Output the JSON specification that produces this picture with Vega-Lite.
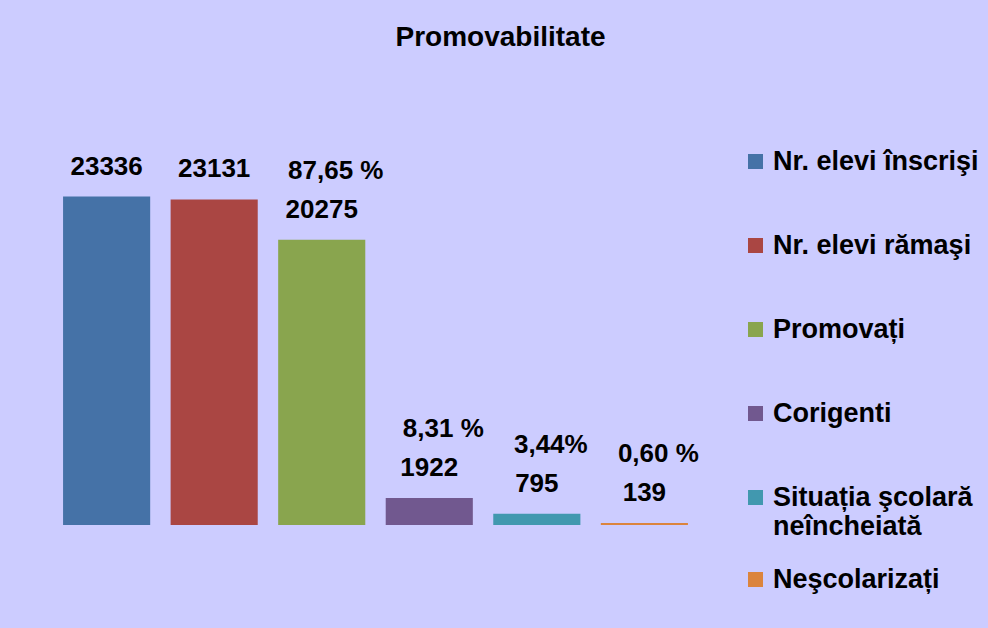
{
  "$schema": "https://vega.github.io/schema/vega-lite/v6.json",
  "width": 641,
  "height": 380,
  "autosize": {"type": "none"},
  "padding": {"left": 55, "top": 145, "right": 292, "bottom": 103},
  "background": "#CCCCFF",
  "view": {"stroke": null},
  "title": {
    "text": "Promovabilitate",
    "font": "Liberation Sans",
    "fontSize": 28,
    "fontWeight": "bold",
    "color": "black",
    "anchor": "middle",
    "frame": "group",
    "dx": 125,
    "offset": 41,
    "baseline": "alphabetic"
  },
  "data": {
    "values": [
      {"categorie": "Nr. elevi înscrişi", "valoare": 23336, "procent": ""},
      {"categorie": "Nr. elevi rămaşi", "valoare": 23131, "procent": ""},
      {"categorie": "Promovați", "valoare": 20275, "procent": "87,65 %"},
      {"categorie": "Corigenti", "valoare": 1922, "procent": "8,31 %"},
      {"categorie": "Situația şcolară neîncheiată", "valoare": 795, "procent": "3,44%"},
      {"categorie": "Neşcolarizați", "valoare": 139, "procent": "0,60 %"}
    ]
  },
  "encoding": {
    "x": {
      "field": "categorie",
      "type": "nominal",
      "sort": null,
      "axis": null,
      "scale": {"paddingInner": 0.19, "paddingOuter": 0.075}
    },
    "y": {
      "field": "valoare",
      "type": "quantitative",
      "axis": null,
      "scale": {"domain": [0, 27000], "nice": false}
    }
  },
  "layer": [
    {
      "mark": {"type": "bar", "strokeWidth": 0},
      "encoding": {
        "color": {
          "field": "categorie",
          "type": "nominal",
          "sort": null,
          "scale": {
            "domain": ["Nr. elevi înscrişi", "Nr. elevi rămaşi", "Promovați", "Corigenti", "Situația şcolară neîncheiată", "Neşcolarizați"],
            "range": ["#4572A7", "#AA4643", "#89A54E", "#71588F", "#4198AF", "#DB843D"]
          },
          "legend": {
            "title": null,
            "orient": "none",
            "legendX": 687,
            "legendY": 3,
            "padding": 0,
            "values": ["Nr. elevi înscrişi", "Nr. elevi rămaşi", "Promovați", "Corigenti", "Situația şcolară neîncheiată"],
            "symbolType": "square",
            "symbolSize": 225,
            "symbolStrokeWidth": 0,
            "labelFont": "Liberation Sans",
            "labelFontSize": 27,
            "labelFontWeight": "bold",
            "labelColor": "black",
            "labelOffset": 4,
            "labelLimit": 300,
            "rowPadding": 56,
            "labelExpr": "datum.label == 'Situația şcolară neîncheiată' ? ['Situația şcolară', 'neîncheiată'] : datum.label"
          }
        },
        "stroke": {
          "field": "categorie",
          "type": "nominal",
          "sort": null,
          "scale": {
            "domain": ["Neşcolarizați"],
            "range": ["#DB843D"]
          },
          "legend": {
            "title": null,
            "orient": "none",
            "legendX": 687,
            "legendY": 421,
            "padding": 0,
            "symbolType": "square",
            "symbolSize": 225,
            "symbolStrokeWidth": 0,
            "symbolFillColor": "#DB843D",
            "labelFont": "Liberation Sans",
            "labelFontSize": 27,
            "labelFontWeight": "bold",
            "labelColor": "black",
            "labelOffset": 4,
            "labelLimit": 300
          }
        }
      }
    },
    {
      "mark": {
        "type": "text",
        "font": "Liberation Sans",
        "fontSize": 26,
        "fontWeight": "bold",
        "color": "black",
        "baseline": "alphabetic",
        "align": "center",
        "dy": -22
      },
      "encoding": {"text": {"field": "valoare", "type": "quantitative", "format": "d"}}
    },
    {
      "mark": {
        "type": "text",
        "font": "Liberation Sans",
        "fontSize": 26,
        "fontWeight": "bold",
        "color": "black",
        "baseline": "alphabetic",
        "align": "center",
        "dy": -61,
        "dx": 14
      },
      "encoding": {"text": {"field": "procent", "type": "nominal"}}
    }
  ]
}
